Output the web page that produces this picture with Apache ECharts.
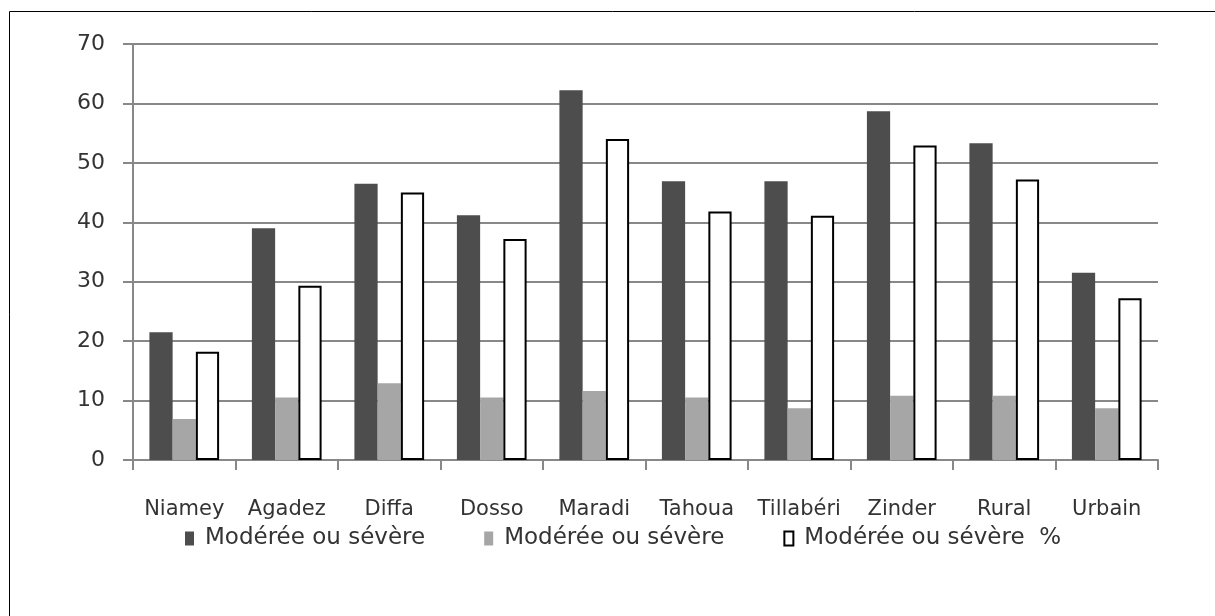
<!DOCTYPE html>
<html>
<head>
<meta charset="utf-8">
<script src="https://cdn.jsdelivr.net/npm/echarts@6/dist/echarts.min.js"></script>
<style>
  html, body { margin: 0; padding: 0; background: #fff; }
  #chart { width: 1215px; height: 616px; }
</style>
</head>
<body>
<div id="chart"></div>
<script>
// régions
const categories = ['Niamey', 'Agadez', 'Diffa', 'Dosso', 'Maradi', 'Tahoua', 'Tillabéri', 'Zinder', 'Rural', 'Urbain']
// noms des séries (les deux premiers sont identiques dans l'original, d'où l'espace en plus)
const seriesNames = ['Modérée ou sévère', 'Modérée ou sévère ', 'Modérée ou sévère  %']
const darkValues = [21.5, 39.0, 46.5, 41.2, 62.2, 46.9, 46.9, 58.7, 53.3, 31.5]
const lightValues = [6.9, 10.5, 12.9, 10.5, 11.6, 10.5, 8.7, 10.8, 10.8, 8.7]
const pctValues = [18.2, 29.3, 45.0, 37.2, 54.0, 41.8, 41.1, 52.9, 47.2, 27.2]
const yTicks = [0, 10, 20, 30, 40, 50, 60, 70]

const FONT = 'DejaVu Sans'
const chart = echarts.init(document.getElementById('chart'))

chart.setOption({
  animation: false,
  backgroundColor: '#fff',
  graphic: [{
    type: 'rect',
    silent: true,
    shape: { x: 9.5, y: 11.5, width: 1400, height: 800 },
    style: { fill: 'none', stroke: '#000', lineWidth: 1 }
  }],
  grid: { left: 133, right: 57, top: 44, bottom: 156, containLabel: false },
  legend: {
    data: seriesNames,
    top: 522,
    left: 180,
    icon: 'rect',
    itemWidth: 9,
    itemHeight: 14,
    itemGap: 59,
    formatter: name => name.trim(),
    textStyle: { fontFamily: FONT, fontSize: 23, color: '#333', padding: [0, 0, 0, 6] }
  },
  xAxis: {
    type: 'category',
    data: categories,
    axisLine: { lineStyle: { color: '#888', width: 2 } },
    axisTick: { show: true, length: 10, lineStyle: { color: '#888', width: 2 } },
    axisLabel: { interval: 0, margin: 39, fontFamily: FONT, fontSize: 21, color: '#333' }
  },
  yAxis: {
    type: 'value',
    min: yTicks[0],
    max: yTicks[yTicks.length - 1],
    interval: 10,
    axisLine: { show: true, lineStyle: { color: '#888', width: 2 } },
    axisTick: { show: true, length: 10, lineStyle: { color: '#888', width: 2 } },
    axisLabel: { margin: 28, fontFamily: FONT, fontSize: 22, color: '#333' },
    splitLine: { lineStyle: { color: '#888', width: 2 } }
  },
  series: [
    {
      name: seriesNames[0],
      type: 'bar',
      data: darkValues,
      barGap: '0%',
      barCategoryGap: '32%',
      itemStyle: { color: '#4d4d4d' }
    },
    {
      name: seriesNames[1],
      type: 'bar',
      data: lightValues,
      itemStyle: { color: '#a6a6a6' }
    },
    {
      name: seriesNames[2],
      type: 'bar',
      data: pctValues,
      itemStyle: { color: '#fff', borderColor: '#000', borderWidth: 2 }
    }
  ]
})
</script>
</body>
</html>
